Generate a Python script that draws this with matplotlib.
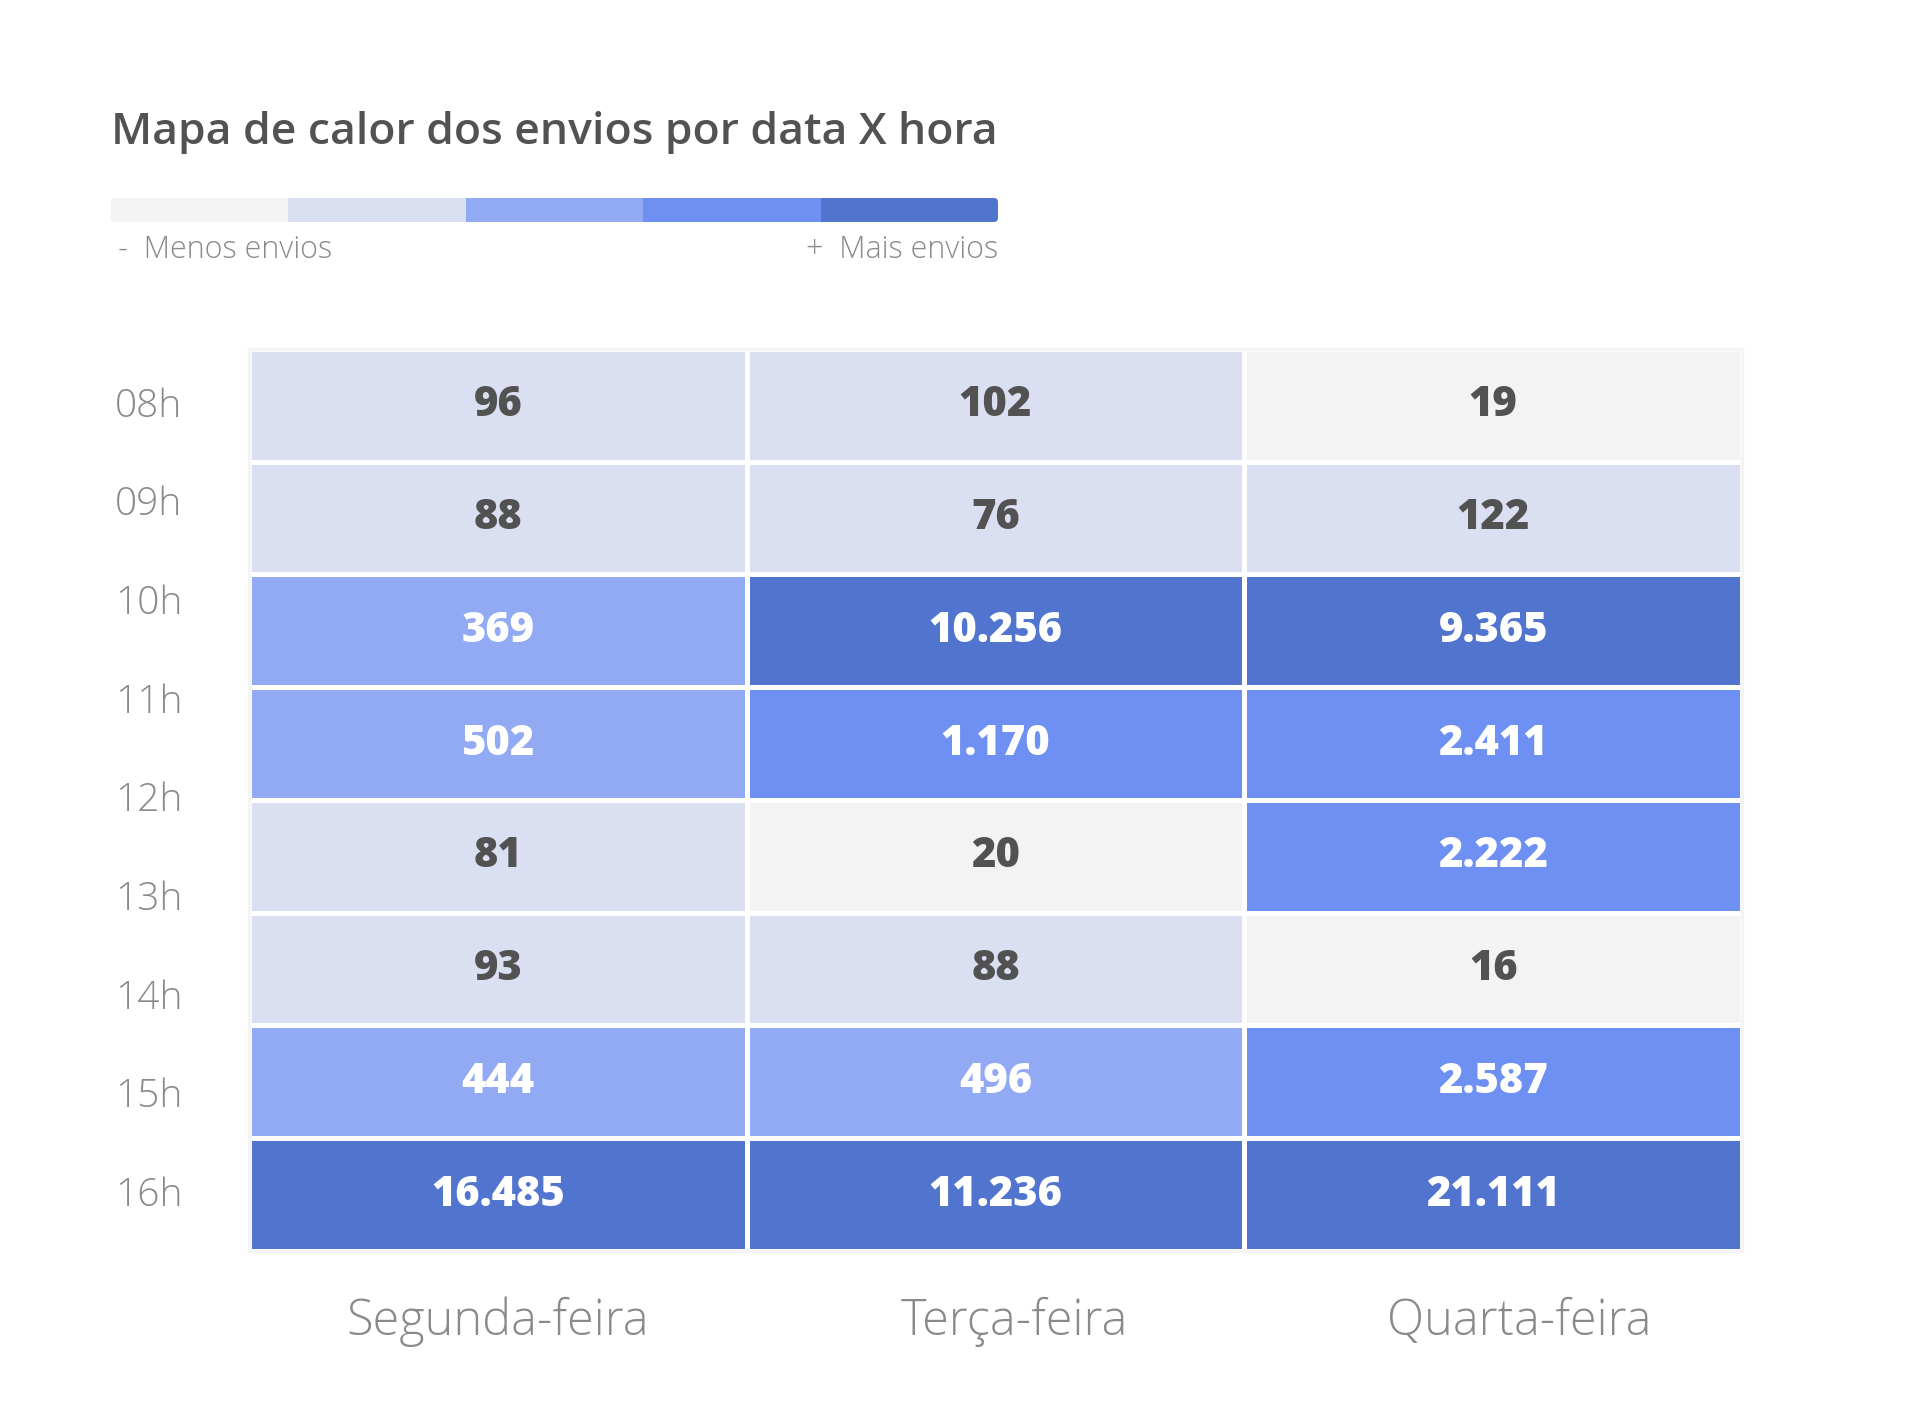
import matplotlib.pyplot as plt
import numpy as np
from matplotlib.colors import ListedColormap, BoundaryNorm
from matplotlib.patches import FancyBboxPatch

plt.rcParams['font.family'] = ['Open Sans', 'DejaVu Sans']

# data
days = ['Segunda-feira', 'Terça-feira', 'Quarta-feira']
hour_labels = ['08h', '09h', '10h', '11h', '12h', '13h', '14h', '15h', '16h']
envios = np.array([
    [96, 102, 19],
    [88, 76, 122],
    [369, 10256, 9365],
    [502, 1170, 2411],
    [81, 20, 2222],
    [93, 88, 16],
    [444, 496, 2587],
    [16485, 11236, 21111],
])
level_bounds = [0, 50, 300, 1000, 5000, 100000]
level_colors = ['#f3f3f3', '#dae0f2', '#91aaf3', '#6e90f2', '#5174cf']

DARK = '#525252'
GREY = '#8a8a8a'

cmap = ListedColormap(level_colors)
norm = BoundaryNorm(level_bounds, cmap.N)

fig = plt.figure(figsize=(19.2, 14.01), dpi=100)

# title + legend bar
fig.text(0.0578, 0.8972, 'Mapa de calor dos envios por data X hora',
         fontsize=32, fontweight='semibold', color=DARK, va='baseline')

lax = fig.add_axes([0.0578, 0.8415, 0.462, 0.0171])
mesh = lax.pcolormesh(np.arange(6), [0, 1], np.arange(5).reshape(1, 5),
                      cmap=ListedColormap(level_colors), vmin=-0.5, vmax=4.5)
clip = FancyBboxPatch((0, 0), 5, 1, boxstyle='round,pad=0,rounding_size=0.02',
                      transform=lax.transData, mutation_aspect=8)
mesh.set_clip_path(clip)
lax.set_xlim(0, 5)
lax.set_ylim(0, 1)
lax.axis('off')

fig.text(0.0615, 0.8158, '-  Menos envios', fontsize=22, color=GREY,
         fontweight='light', va='baseline', ha='left')
fig.text(0.5198, 0.8158, '+  Mais envios', fontsize=22, color=GREY,
         fontweight='light', va='baseline', ha='right')

# heatmap
ax = fig.add_axes([0.1297, 0.1071, 0.7776, 0.6438])
n_rows, n_cols = envios.shape
ax.pcolormesh(np.arange(n_cols + 1), np.arange(n_rows + 1), envios,
              cmap=cmap, norm=norm, edgecolors='white', linewidth=2.2)
ax.set_xlim(0, n_cols)
ax.set_ylim(n_rows, 0)

for i in range(n_rows):
    for j in range(n_cols):
        v = envios[i, j]
        txt = f'{v:,}'.replace(',', '.')
        col = DARK if v < level_bounds[2] else 'white'
        ax.text(j + 0.5, i + 0.5, txt, ha='center', va='center',
                fontsize=30, fontweight='extra bold', color=col)

# hour labels spread from first to last row centre (as in the original)
ax.set_yticks(np.linspace(0.47, n_rows - 0.53, len(hour_labels)))
ax.set_yticklabels(hour_labels, fontsize=28, fontweight='light', color=GREY,
                   va='center_baseline')
ax.set_xticks(np.arange(n_cols) + 0.5 + np.array([0.0, 0.037, 0.052]))
ax.set_xticklabels(days, fontsize=35, fontweight='light', color=GREY)
ax.tick_params(axis='y', length=0, pad=48)
ax.tick_params(axis='x', length=0, pad=33)
for s in ax.spines.values():
    s.set_color('#f4f4f4')
    s.set_linewidth(2.5)

fig.savefig('out.png', dpi=100, facecolor='white')
